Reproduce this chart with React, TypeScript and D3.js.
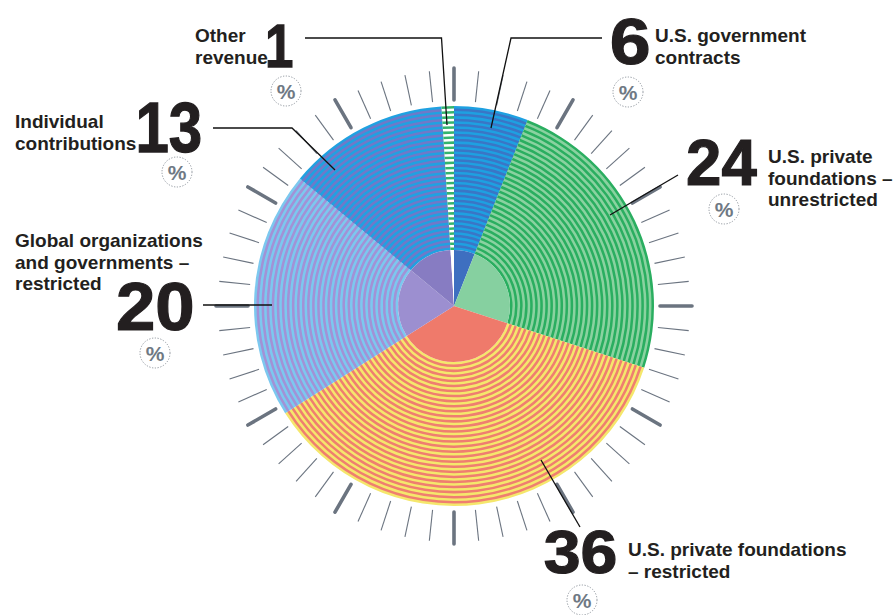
import React from "react";
import * as d3 from "d3";

// ---- data ----
const categories = [
  "U.S. government contracts",
  "U.S. private foundations – unrestricted",
  "U.S. private foundations – restricted",
  "Global organizations and governments – restricted",
  "Individual contributions",
  "Other revenue",
];
const shares = [6, 24, 36, 20, 13, 1];
const labelLines = [
  ["U.S. government", "contracts"],
  ["U.S. private", "foundations –", "unrestricted"],
  ["U.S. private foundations", "– restricted"],
  ["Global organizations", "and governments –", "restricted"],
  ["Individual", "contributions"],
  ["Other", "revenue"],
];
const stripeA = ["#1ea0e1", "#2aae60", "#f5e76c", "#7cc8ef", "#20a1e1", "#34b46c"];
const stripeB = ["#3a76c6", "#8ad2a0", "#ef7e70", "#a292d6", "#7079c8", "#ffffff"];
const hubColors = ["#3e6fc0", "#86d0a0", "#ef7a6b", "#9c8fd0", "#877cc2", "#ffffff"];
const tickCount = 60;

// ---- layout ----
const W = 895, H = 615;
const cx = 454, cy = 306;
const R = 200, hubR = 56;
const halfStripes = 57;
const FONT = "'Liberation Sans', Arial, Helvetica, sans-serif";
const INK = "#231f20";

// ink boxes of the big numbers: x0, x1, top, base
const layout = [
  { num: { x0: 612, x1: 648, top: 19, base: 64 }, text: { x: 655, y: 42 }, pct: { x: 628, y: 92 }, leader: [[602, 38], [511, 38], [491, 128]] },
  { num: { x0: 688, x1: 757, top: 140, base: 185 }, text: { x: 768, y: 163 }, pct: { x: 724, y: 209 }, leader: [[678, 175], [610, 215]] },
  { num: { x0: 545, x1: 615, top: 530, base: 573 }, text: { x: 628, y: 556 }, pct: { x: 582, y: 600 }, leader: [[580, 527], [541, 460]] },
  { num: { x0: 118, x1: 192, top: 282, base: 330 }, text: { x: 15, y: 247 }, pct: { x: 155, y: 353 }, leader: [[203, 305], [272, 305]] },
  { num: { x0: 139, x1: 200, top: 103, base: 152 }, text: { x: 15, y: 128 }, pct: { x: 177, y: 172 }, leader: [[213, 128], [292, 128], [335, 170]] },
  { num: { x0: 268, x1: 292, top: 25, base: 67 }, text: { x: 195, y: 42 }, pct: { x: 286, y: 91 }, leader: [[305, 38], [441.5, 38], [447, 125]] },
];

let measureCtx: CanvasRenderingContext2D | null = null;
function inkBox(s: string, size: number) {
  if (!measureCtx) measureCtx = document.createElement("canvas").getContext("2d");
  const ctx = measureCtx!;
  ctx.font = `bold ${size}px 'Liberation Sans', Arial, sans-serif`;
  const m = ctx.measureText(s);
  return { left: -m.actualBoundingBoxLeft, right: m.actualBoundingBoxRight, ascent: m.actualBoundingBoxAscent };
}

function BigNumber({ value, x0, x1, top, base }: { value: number; x0: number; x1: number; top: number; base: number }) {
  const s = String(value);
  const size = 100;
  const b = inkBox(s, size);
  const sx = (x1 - x0) / (b.right - b.left);
  const sy = (base - top) / b.ascent;
  const tx = x0 - b.left * sx;
  return (
    <g transform={`translate(${tx},${base}) scale(${sx},${sy})`}>
      <text x={0} y={0} fontFamily={FONT} fontWeight="bold" fontSize={size} fill={INK}
        stroke={INK} strokeWidth={1.2} vectorEffect="non-scaling-stroke" style={{ vectorEffect: "non-scaling-stroke" } as any}>
        {s}
      </text>
    </g>
  );
}

export default function App() {
  const pie = d3.pie<number>().sort(null).value((d) => d);
  const arcs = pie(shares);
  const band = (R - hubR) / halfStripes;
  const arcGen = d3.arc<any>();
  const line = d3.line();

  const ticks = d3.range(tickCount).map((k) => {
    const a = (k * 2 * Math.PI) / tickCount;
    const major = k % 5 === 0;
    const r0 = major ? 206 : 205;
    const r1 = major ? 238 : 236;
    return {
      k,
      major,
      x1: cx + r0 * Math.sin(a), y1: cy - r0 * Math.cos(a),
      x2: cx + r1 * Math.sin(a), y2: cy - r1 * Math.cos(a),
    };
  });

  return (
    <svg width={W} height={H} style={{ position: "absolute", left: 0, top: 0, background: "#fff" }}>
      <rect width={W} height={H} fill="#fff" />
      <g>
        {ticks.map((t) => (
          <line key={t.k} x1={t.x1} y1={t.y1} x2={t.x2} y2={t.y2}
            stroke="#6b7480" strokeWidth={t.major ? 3.6 : 1.1} strokeLinecap={t.major ? "round" : "butt"} />
        ))}
      </g>
      <g transform={`translate(${cx},${cy})`}>
        {arcs.map((a, i) => (
          <g key={categories[i]}>
            <path d={arcGen({ innerRadius: hubR, outerRadius: R, startAngle: a.startAngle, endAngle: a.endAngle }) as string} fill={stripeA[i]} />
            {d3.range(Math.floor(halfStripes / 2)).map((j) => (
              <path key={j}
                d={arcGen({ innerRadius: hubR + (2 * j + 1) * band, outerRadius: hubR + (2 * j + 2) * band, startAngle: a.startAngle, endAngle: a.endAngle }) as string}
                fill={stripeB[i]} />
            ))}
            <path d={arcGen({ innerRadius: 0, outerRadius: hubR, startAngle: a.startAngle, endAngle: a.endAngle }) as string} fill={hubColors[i]} />
          </g>
        ))}
      </g>
      <g fill="none" stroke="#111" strokeWidth={1.3}>
        {layout.map((l, i) => (
          <path key={i} d={line(l.leader as [number, number][]) as string} />
        ))}
      </g>
      {layout.map((l, i) => (
        <g key={categories[i]}>
          <BigNumber value={shares[i]} {...l.num} />
          <text fontFamily={FONT} fontWeight="bold" fontSize={19} fill={INK}>
            {labelLines[i].map((t, j) => (
              <tspan key={j} x={l.text.x} y={l.text.y + j * 21.5}>{t}</tspan>
            ))}
          </text>
          <circle cx={l.pct.x} cy={l.pct.y} r={15} fill="#fff" stroke="#8c939b" strokeWidth={1} strokeDasharray="1.2 1.6" />
          <text x={l.pct.x} y={l.pct.y + 7.5} textAnchor="middle" fontFamily={FONT} fontWeight="bold" fontSize={21} fill="#6f7984">%</text>
        </g>
      ))}
    </svg>
  );
}
